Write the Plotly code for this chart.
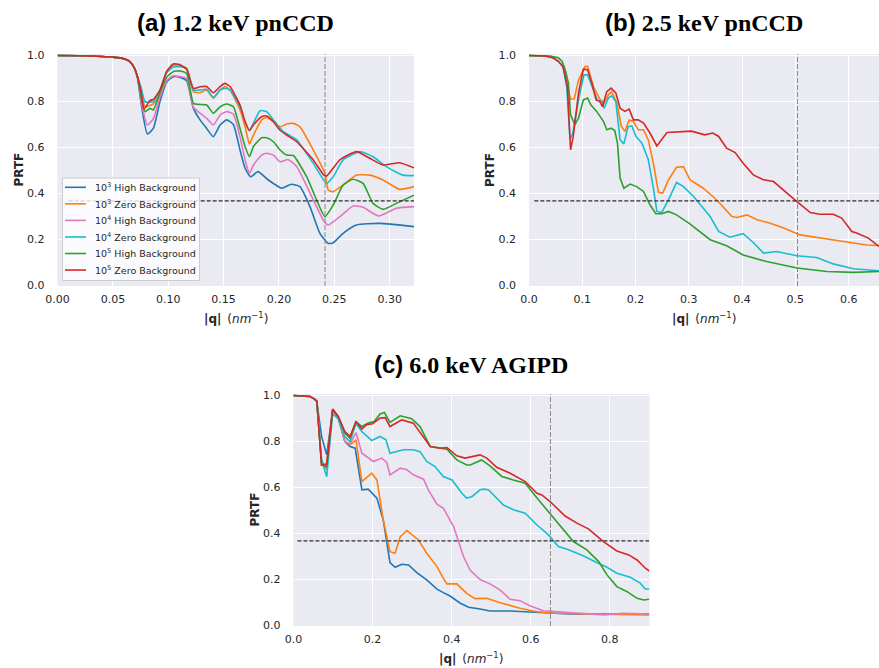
import plotly.graph_objects as go

# ---------------------------------------------------------------- data
SERIES = ["1e3_high", "1e3_zero", "1e4_high", "1e4_zero", "1e5_high", "1e5_zero"]
SERIES_LABELS = [
    "10<sup>3</sup> High Background",
    "10<sup>3</sup> Zero Background",
    "10<sup>4</sup> High Background",
    "10<sup>4</sup> Zero Background",
    "10<sup>5</sup> High Background",
    "10<sup>5</sup> Zero Background",
]
SERIES_COLORS = ["#1f77b4", "#ff7f0e", "#e377c2", "#17becf", "#2ca02c", "#d62728"]

PRTF_THRESHOLD = 0.368          # 1/e criterion
RESOLUTION_Q = {"a": 0.2416, "b": 0.504, "c": 0.65}

# (a) 1.2 keV pnCCD
a_q_1e3_high = [0, 0.02, 0.04, 0.05, 0.06, 0.065, 0.069, 0.072, 0.0755, 0.0811, 0.0865, 0.0925, 0.0985,
                0.1045, 0.1106, 0.1166, 0.1227, 0.1287, 0.1347, 0.1407, 0.1468, 0.1528, 0.1588, 0.1648,
                0.1694, 0.1744, 0.181, 0.19, 0.2025, 0.211, 0.219, 0.228, 0.237, 0.2445, 0.249, 0.258,
                0.27, 0.291, 0.322]
a_prtf_1e3_high = [1.0, 0.999, 0.996, 0.993, 0.986, 0.975, 0.95, 0.91, 0.79, 0.659, 0.683, 0.80, 0.885,
                   0.908, 0.905, 0.89, 0.77, 0.72, 0.683, 0.647, 0.698, 0.72, 0.70, 0.589,
                   0.51, 0.473, 0.495, 0.46, 0.423, 0.44, 0.43, 0.343, 0.227, 0.183, 0.186, 0.227,
                   0.263, 0.27, 0.256]

a_q_1e3_zero = [0, 0.02, 0.04, 0.05, 0.06, 0.065, 0.069, 0.072, 0.0755, 0.079, 0.0865, 0.0925, 0.0985,
                0.1045, 0.1106, 0.1166, 0.1227, 0.1287, 0.1347, 0.1407, 0.1468, 0.1511, 0.1558, 0.1648,
                0.1694, 0.1733, 0.1769, 0.1844, 0.1889, 0.195, 0.201, 0.207, 0.2131, 0.219, 0.231,
                0.2415, 0.2445, 0.249, 0.258, 0.27, 0.282, 0.294, 0.309, 0.322]
a_prtf_1e3_zero = [1.0, 0.999, 0.996, 0.993, 0.986, 0.975, 0.95, 0.91, 0.85, 0.777, 0.79, 0.83, 0.93,
                   0.958, 0.955, 0.944, 0.843, 0.838, 0.85, 0.814, 0.85, 0.865, 0.85, 0.763,
                   0.69, 0.615, 0.654, 0.72, 0.731, 0.712, 0.69, 0.702, 0.705, 0.69, 0.589,
                   0.488, 0.415, 0.408, 0.437, 0.48, 0.48, 0.459, 0.418, 0.43]

a_q_1e4_high = [0, 0.02, 0.04, 0.05, 0.06, 0.065, 0.069, 0.072, 0.0755, 0.0811, 0.0865, 0.0925, 0.0985,
                0.1045, 0.1106, 0.1166, 0.1227, 0.1287, 0.1347, 0.1407, 0.1468, 0.1528, 0.1588, 0.1648,
                0.1694, 0.1733, 0.1769, 0.1844, 0.1889, 0.195, 0.201, 0.208, 0.216, 0.231, 0.240,
                0.2445, 0.255, 0.267, 0.276, 0.29, 0.306, 0.322]
a_prtf_1e4_high = [1.0, 0.999, 0.996, 0.993, 0.986, 0.975, 0.95, 0.91, 0.80, 0.698, 0.725, 0.82, 0.89,
                   0.912, 0.908, 0.90, 0.775, 0.749, 0.727, 0.698, 0.741, 0.756, 0.745, 0.647,
                   0.546, 0.488, 0.524, 0.567, 0.575, 0.567, 0.538, 0.548, 0.517, 0.372, 0.285,
                   0.263, 0.299, 0.346, 0.34, 0.302, 0.336, 0.343]

a_q_1e4_zero = [0, 0.02, 0.04, 0.05, 0.06, 0.065, 0.069, 0.072, 0.0755, 0.079, 0.0865, 0.0925, 0.0985,
                0.1045, 0.1106, 0.1166, 0.1227, 0.1287, 0.1347, 0.1407, 0.1468, 0.1511, 0.1558, 0.1648,
                0.1694, 0.1733, 0.1769, 0.1829, 0.1889, 0.195, 0.204, 0.216, 0.231, 0.243, 0.249,
                0.258, 0.273, 0.285, 0.297, 0.312, 0.322]
a_prtf_1e4_zero = [1.0, 0.999, 0.996, 0.993, 0.986, 0.975, 0.95, 0.91, 0.86, 0.799, 0.80, 0.85, 0.925,
                   0.95, 0.951, 0.944, 0.85, 0.85, 0.853, 0.818, 0.85, 0.857, 0.85, 0.777,
                   0.712, 0.676, 0.705, 0.76, 0.756, 0.72, 0.669, 0.633, 0.531, 0.444, 0.473,
                   0.546, 0.582, 0.56, 0.517, 0.48, 0.478]

a_q_1e5_high = [0, 0.02, 0.04, 0.05, 0.06, 0.065, 0.069, 0.072, 0.0755, 0.079, 0.0835, 0.0865, 0.0925,
                0.0985, 0.1045, 0.1106, 0.1166, 0.1227, 0.1287, 0.1347, 0.1407, 0.1468, 0.1528, 0.1588,
                0.1648, 0.1694, 0.1733, 0.1769, 0.1844, 0.1889, 0.195, 0.201, 0.207, 0.213, 0.225,
                0.234, 0.2415, 0.249, 0.258, 0.267, 0.276, 0.285, 0.294, 0.306, 0.322]
a_prtf_1e5_high = [1.0, 0.999, 0.996, 0.993, 0.986, 0.975, 0.95, 0.91, 0.82, 0.756, 0.77, 0.763, 0.84,
                   0.905, 0.93, 0.933, 0.922, 0.792, 0.787, 0.785, 0.749, 0.777, 0.789, 0.777,
                   0.683, 0.604, 0.56, 0.604, 0.642, 0.642, 0.625, 0.589, 0.567, 0.565, 0.473,
                   0.372, 0.299, 0.35, 0.437, 0.462, 0.444, 0.357, 0.331, 0.357, 0.393]

a_q_1e5_zero = [0, 0.02, 0.04, 0.05, 0.06, 0.065, 0.069, 0.072, 0.0755, 0.078, 0.0835, 0.0865, 0.0925,
                0.0985, 0.1045, 0.1106, 0.1166, 0.1227, 0.1287, 0.1347, 0.1407, 0.1468, 0.1511, 0.1558,
                0.1648, 0.1694, 0.1733, 0.1769, 0.1844, 0.1889, 0.195, 0.201, 0.207, 0.216, 0.231,
                0.2405, 0.243, 0.255, 0.270, 0.282, 0.294, 0.309, 0.322]
a_prtf_1e5_zero = [1.0, 0.999, 0.996, 0.993, 0.986, 0.975, 0.95, 0.91, 0.84, 0.766, 0.805, 0.809, 0.85,
                   0.93, 0.963, 0.96, 0.94, 0.857, 0.864, 0.865, 0.838, 0.865, 0.879, 0.865,
                   0.785, 0.712, 0.673, 0.698, 0.734, 0.737, 0.712, 0.675, 0.654, 0.625, 0.546,
                   0.48, 0.476, 0.546, 0.582, 0.553, 0.524, 0.534, 0.512]

# (b) 2.5 keV pnCCD
b_q_1e3_zero = [0, 0.03, 0.045, 0.055, 0.064, 0.072, 0.078, 0.085, 0.093, 0.105, 0.11, 0.121, 0.133,
                0.141, 0.149, 0.155, 0.165, 0.173, 0.18, 0.188, 0.196, 0.205, 0.215, 0.224, 0.234,
                0.243, 0.251, 0.262, 0.277, 0.29, 0.302, 0.327, 0.352, 0.381, 0.39, 0.409, 0.428,
                0.453, 0.478, 0.509, 0.54, 0.571, 0.603, 0.634, 0.657]
b_prtf_1e3_zero = [1.0, 0.998, 0.99, 0.975, 0.95, 0.87, 0.81, 0.812, 0.894, 0.952, 0.953, 0.865, 0.81,
                   0.793, 0.829, 0.843, 0.793, 0.694, 0.67, 0.72, 0.713, 0.677, 0.677, 0.633, 0.525,
                   0.405, 0.402, 0.46, 0.514, 0.517, 0.46, 0.423, 0.373, 0.30, 0.296, 0.307, 0.286,
                   0.271, 0.25, 0.22, 0.21, 0.199, 0.187, 0.176, 0.174]

b_q_1e4_zero = [0, 0.03, 0.045, 0.055, 0.064, 0.071, 0.077, 0.082, 0.093, 0.103, 0.11, 0.121, 0.128,
                0.137, 0.141, 0.149, 0.155, 0.163, 0.171, 0.178, 0.186, 0.193, 0.201, 0.212, 0.224,
                0.234, 0.24, 0.249, 0.262, 0.277, 0.29, 0.309, 0.34, 0.356, 0.377, 0.402, 0.421,
                0.44, 0.465, 0.503, 0.54, 0.571, 0.609, 0.657]
b_prtf_1e4_zero = [1.0, 0.998, 0.99, 0.975, 0.95, 0.86, 0.636, 0.66, 0.807, 0.916, 0.916, 0.851, 0.807,
                   0.80, 0.771, 0.815, 0.825, 0.80, 0.633, 0.616, 0.691, 0.694, 0.648, 0.619, 0.547,
                   0.416, 0.322, 0.317, 0.373, 0.448, 0.43, 0.387, 0.30, 0.235, 0.21, 0.225, 0.187,
                   0.141, 0.148, 0.129, 0.122, 0.094, 0.073, 0.064]

b_q_1e5_high = [0, 0.04, 0.055, 0.062, 0.068, 0.074, 0.078, 0.086, 0.093, 0.102, 0.11, 0.116, 0.127,
                0.14, 0.146, 0.154, 0.161, 0.166, 0.171, 0.178, 0.19, 0.202, 0.215, 0.227, 0.238,
                0.249, 0.262, 0.277, 0.302, 0.34, 0.371, 0.402, 0.446, 0.503, 0.559, 0.609, 0.657]
b_prtf_1e5_high = [1.0, 0.998, 0.99, 0.975, 0.938, 0.88, 0.742, 0.699, 0.728, 0.807, 0.815, 0.786, 0.757,
                   0.713, 0.677, 0.684, 0.674, 0.62, 0.467, 0.423, 0.441, 0.43, 0.409, 0.351, 0.312,
                   0.312, 0.322, 0.307, 0.268, 0.199, 0.173, 0.133, 0.104, 0.076, 0.061, 0.057, 0.061]

b_q_1e5_zero = [0, 0.03, 0.045, 0.055, 0.064, 0.072, 0.078, 0.083, 0.093, 0.102, 0.11, 0.118, 0.126,
                0.133, 0.138, 0.146, 0.154, 0.163, 0.171, 0.18, 0.188, 0.196, 0.205, 0.215, 0.227,
                0.24, 0.259, 0.284, 0.305, 0.33, 0.345, 0.356, 0.371, 0.387, 0.402, 0.421, 0.44,
                0.459, 0.478, 0.503, 0.528, 0.546, 0.571, 0.587, 0.606, 0.615, 0.637, 0.657]
b_prtf_1e5_zero = [1.0, 0.998, 0.99, 0.975, 0.952, 0.865, 0.59, 0.648, 0.837, 0.941, 0.938, 0.88, 0.807,
                   0.80, 0.778, 0.843, 0.858, 0.837, 0.771, 0.757, 0.767, 0.72, 0.72, 0.706, 0.663,
                   0.607, 0.665, 0.668, 0.671, 0.655, 0.663, 0.648, 0.597, 0.578, 0.532, 0.481, 0.46,
                   0.452, 0.416, 0.365, 0.317, 0.31, 0.31, 0.293, 0.235, 0.228, 0.206, 0.17]

# (c) 6.0 keV AGIPD
c_q_1e3_high = [0, 0.03, 0.042, 0.054, 0.059, 0.071, 0.084, 0.099, 0.113, 0.13, 0.143, 0.156, 0.173,
                0.189, 0.211, 0.227, 0.244, 0.257, 0.274, 0.291, 0.312, 0.337, 0.363, 0.379, 0.396,
                0.422, 0.443, 0.472, 0.497, 0.548, 0.599, 0.649, 0.70, 0.80, 0.90]
c_prtf_1e3_high = [1.0, 0.998, 0.996, 0.983, 0.974, 0.822, 0.742, 0.934, 0.905, 0.80, 0.778, 0.771, 0.59,
                   0.593, 0.554, 0.459, 0.273, 0.253, 0.266, 0.263, 0.23, 0.198, 0.158, 0.143, 0.128,
                   0.097, 0.079, 0.072, 0.063, 0.063, 0.058, 0.053, 0.05, 0.05, 0.05]

c_q_1e3_zero = [0, 0.03, 0.042, 0.054, 0.059, 0.071, 0.084, 0.099, 0.113, 0.13, 0.143, 0.158, 0.173,
                0.198, 0.211, 0.227, 0.244, 0.257, 0.27, 0.287, 0.316, 0.337, 0.363, 0.379, 0.388,
                0.413, 0.438, 0.459, 0.489, 0.523, 0.573, 0.616, 0.658, 0.75, 0.90]
c_prtf_1e3_zero = [1.0, 0.998, 0.996, 0.983, 0.975, 0.70, 0.705, 0.94, 0.905, 0.80, 0.786, 0.807, 0.626,
                   0.662, 0.633, 0.459, 0.321, 0.314, 0.386, 0.413, 0.372, 0.314, 0.256, 0.205, 0.181,
                   0.181, 0.14, 0.117, 0.118, 0.099, 0.075, 0.06, 0.053, 0.05, 0.046]

c_q_1e4_high = [0, 0.03, 0.042, 0.054, 0.059, 0.071, 0.084, 0.099, 0.113, 0.13, 0.143, 0.158, 0.173,
                0.202, 0.223, 0.236, 0.244, 0.27, 0.287, 0.303, 0.329, 0.341, 0.363, 0.379, 0.405,
                0.43, 0.447, 0.472, 0.497, 0.523, 0.548, 0.573, 0.599, 0.632, 0.666, 0.70, 0.784,
                0.835, 0.90]
c_prtf_1e4_high = [1.0, 0.998, 0.996, 0.983, 0.975, 0.72, 0.677, 0.934, 0.90, 0.80, 0.79, 0.839, 0.749,
                   0.713, 0.728, 0.709, 0.655, 0.684, 0.677, 0.655, 0.636, 0.59, 0.528, 0.51, 0.43,
                   0.30, 0.24, 0.20, 0.181, 0.154, 0.114, 0.108, 0.085, 0.064, 0.06, 0.053, 0.046,
                   0.053, 0.05]

c_q_1e4_zero = [0, 0.03, 0.042, 0.054, 0.059, 0.067, 0.071, 0.084, 0.099, 0.113, 0.129, 0.143, 0.158,
                0.173, 0.198, 0.219, 0.234, 0.244, 0.278, 0.303, 0.32, 0.337, 0.358, 0.379, 0.401,
                0.426, 0.438, 0.451, 0.472, 0.481, 0.493, 0.531, 0.556, 0.586, 0.616, 0.645, 0.67,
                0.696, 0.734, 0.768, 0.793, 0.818, 0.852, 0.877, 0.89, 0.90]
c_prtf_1e4_zero = [1.0, 0.998, 0.996, 0.983, 0.975, 0.80, 0.72, 0.647, 0.92, 0.90, 0.822, 0.80, 0.878,
                   0.843, 0.804, 0.822, 0.807, 0.749, 0.764, 0.764, 0.756, 0.713, 0.691, 0.648, 0.633,
                   0.575, 0.554, 0.56, 0.59, 0.593, 0.59, 0.524, 0.503, 0.488, 0.437, 0.394, 0.343,
                   0.329, 0.302, 0.273, 0.253, 0.227, 0.21, 0.184, 0.159, 0.159]

c_q_1e5_high = [0, 0.03, 0.042, 0.054, 0.059, 0.071, 0.084, 0.099, 0.113, 0.13, 0.143, 0.158, 0.173,
                0.189, 0.204, 0.219, 0.23, 0.244, 0.27, 0.299, 0.32, 0.346, 0.371, 0.388, 0.413,
                0.438, 0.447, 0.476, 0.497, 0.527, 0.556, 0.586, 0.616, 0.649, 0.683, 0.708, 0.742,
                0.772, 0.793, 0.818, 0.844, 0.869, 0.886, 0.90]
c_prtf_1e5_high = [1.0, 0.998, 0.996, 0.983, 0.976, 0.698, 0.69, 0.94, 0.91, 0.836, 0.814, 0.887, 0.865,
                   0.88, 0.887, 0.92, 0.926, 0.883, 0.912, 0.899, 0.865, 0.778, 0.771, 0.767, 0.72,
                   0.698, 0.698, 0.72, 0.694, 0.648, 0.633, 0.619, 0.554, 0.488, 0.416, 0.365, 0.329,
                   0.278, 0.22, 0.169, 0.147, 0.118, 0.111, 0.114]

c_q_1e5_zero = [0, 0.03, 0.042, 0.054, 0.059, 0.071, 0.084, 0.099, 0.113, 0.13, 0.143, 0.158, 0.173,
                0.185, 0.20, 0.219, 0.232, 0.244, 0.274, 0.303, 0.346, 0.371, 0.388, 0.413, 0.434,
                0.472, 0.489, 0.514, 0.548, 0.586, 0.616, 0.628, 0.649, 0.687, 0.717, 0.746, 0.784,
                0.818, 0.848, 0.869, 0.89, 0.90]
c_prtf_1e5_zero = [1.0, 0.998, 0.996, 0.983, 0.976, 0.698, 0.70, 0.941, 0.909, 0.843, 0.822, 0.887, 0.854,
                   0.873, 0.877, 0.902, 0.904, 0.865, 0.894, 0.88, 0.778, 0.771, 0.774, 0.738, 0.728,
                   0.742, 0.728, 0.688, 0.662, 0.626, 0.575, 0.568, 0.539, 0.476, 0.445, 0.42, 0.365,
                   0.324, 0.307, 0.285, 0.249, 0.237]

PANEL_DATA = {
    "a": [(a_q_1e3_high, a_prtf_1e3_high), (a_q_1e3_zero, a_prtf_1e3_zero),
          (a_q_1e4_high, a_prtf_1e4_high), (a_q_1e4_zero, a_prtf_1e4_zero),
          (a_q_1e5_high, a_prtf_1e5_high), (a_q_1e5_zero, a_prtf_1e5_zero)],
    "b": [None, (b_q_1e3_zero, b_prtf_1e3_zero),
          None, (b_q_1e4_zero, b_prtf_1e4_zero),
          (b_q_1e5_high, b_prtf_1e5_high), (b_q_1e5_zero, b_prtf_1e5_zero)],
    "c": [(c_q_1e3_high, c_prtf_1e3_high), (c_q_1e3_zero, c_prtf_1e3_zero),
          (c_q_1e4_high, c_prtf_1e4_high), (c_q_1e4_zero, c_prtf_1e4_zero),
          (c_q_1e5_high, c_prtf_1e5_high), (c_q_1e5_zero, c_prtf_1e5_zero)],
}

PANEL_TITLES = {"a": ("(a)", "1.2 keV pnCCD"), "b": ("(b)", "2.5 keV pnCCD"), "c": ("(c)", "6.0 keV AGIPD")}
X_TICKS = {
    "a": [0.0, 0.05, 0.10, 0.15, 0.20, 0.25, 0.30],
    "b": [0.0, 0.1, 0.2, 0.3, 0.4, 0.5, 0.6],
    "c": [0.0, 0.2, 0.4, 0.6, 0.8],
}
X_TICK_FORMAT = {"a": ".2f", "b": ".1f", "c": ".1f"}
X_MAX = {"a": 0.322, "b": 0.657, "c": 0.90}
Y_TICKS = [0.0, 0.2, 0.4, 0.6, 0.8, 1.0]

# ---------------------------------------------------------------- layout
W, H = 879, 668
BG = "#EAEAF2"
TXT = "#262626"
TICK_FONT = dict(family="DejaVu Sans", size=11, color=TXT)


def px(x):
    return x / W


def py(y):
    return 1 - y / H


# plot rectangles in pixels: (left, right, top, bottom), plus title centre line
BOXES = {"a": (57.6, 414.0, 54.0, 286.0), "b": (529.0, 879.0, 54.0, 286.0), "c": (293.5, 649.3, 394.0, 626.0)}
TITLE_Y = {"a": 23, "b": 23, "c": 365}
AXES = {"a": ("x", "y"), "b": ("x2", "y2"), "c": ("x3", "y3")}
# the 1.2 keV curves are finely sampled and drawn smooth
LINE_SHAPE = {"a": "spline", "b": "linear", "c": "linear"}
Y_RANGE = [-0.0022, 1.0066]

fig = go.Figure()

for key, series in PANEL_DATA.items():
    xa, ya = AXES[key]
    for i, item in enumerate(series):
        if item is None:
            continue
        q, prtf = item
        line = dict(color=SERIES_COLORS[i], width=1.6, shape=LINE_SHAPE[key])
        if LINE_SHAPE[key] == "spline":
            line["smoothing"] = 0.5
        fig.add_trace(go.Scatter(
            x=q, y=prtf, mode="lines", xaxis=xa, yaxis=ya, line=line,
            name=SERIES_LABELS[i], showlegend=False, hoverinfo="skip",
        ))

annotations = []
shapes = []

for key, (l, r, t, b) in BOXES.items():
    xa, ya = AXES[key]
    xname = "xaxis" if xa == "x" else "xaxis" + xa[1:]
    yname = "yaxis" if ya == "y" else "yaxis" + ya[1:]
    fig.layout[xname] = dict(
        domain=[px(l), px(r)], range=[0, X_MAX[key]], anchor=ya, automargin=False,
        tickvals=X_TICKS[key], tickformat=X_TICK_FORMAT[key],
        showgrid=True, gridcolor="white", gridwidth=1.3, zeroline=False,
        showline=False, ticks="", ticklabelstandoff=5, tickfont=TICK_FONT,
    )
    fig.layout[yname] = dict(
        domain=[py(b), py(t)], range=Y_RANGE, anchor=xa, automargin=False,
        tickvals=Y_TICKS, tickformat=".1f",
        showgrid=True, gridcolor="white", gridwidth=1.3, zeroline=False,
        showline=False, ticks="", ticklabelstandoff=12, tickfont=TICK_FONT,
    )
    # plot background
    shapes.append(dict(type="rect", xref="paper", yref="paper", x0=px(l), x1=px(r), y0=py(b), y1=py(t),
                       fillcolor=BG, line=dict(width=0), layer="below"))
    # resolution marker and 1/e threshold
    shapes.append(dict(type="line", xref=xa, yref=ya + " domain", x0=RESOLUTION_Q[key], x1=RESOLUTION_Q[key],
                       y0=0, y1=1, line=dict(color="#8a8a8a", width=1, dash="5px,2px")))
    shapes.append(dict(type="line", xref=xa, yref=ya, x0=0.01, x1=X_MAX[key],
                       y0=PRTF_THRESHOLD, y1=PRTF_THRESHOLD,
                       line=dict(color="#2e2e2e", width=1.1, dash="4px,2px")))
    # panel title
    tag, label = PANEL_TITLES[key]
    annotations.append(dict(
        xref="paper", yref="paper", x=px((l + r) / 2), y=py(TITLE_Y[key]), xanchor="center", yanchor="middle",
        text=f'<b><span style="font-family:Liberation Sans">{tag}</span> {label}</b>',
        showarrow=False, font=dict(family="Liberation Serif", size=24, color="black"),
    ))
    # axis titles
    annotations.append(dict(
        xref="paper", yref="paper", x=px(l - 39), y=py((t + b) / 2), xanchor="center", yanchor="middle",
        text="<b>PRTF</b>", textangle=-90, showarrow=False,
        font=dict(family="DejaVu Sans", size=12, color=TXT),
    ))
    annotations.append(dict(
        xref="paper", yref="paper", x=px((l + r) / 2), y=py(b + 32), xanchor="center",
        yanchor="middle", text="<b>|q|</b>\u2002(<i>nm</i><sup>\u22121</sup>)", showarrow=False,
        font=dict(family="DejaVu Sans", size=12, color=TXT),
    ))

# legend of panel (a), laid out like a matplotlib legend box
LEG_LEFT, LEG_TOP, LEG_RIGHT, LEG_BOTTOM = 62.5, 178.0, 199.5, 280.5
ROW0, ROW_STEP = 187.3, 16.55
shapes.append(dict(type="rect", xref="paper", yref="paper", x0=px(LEG_LEFT), x1=px(LEG_RIGHT),
                   y0=py(LEG_BOTTOM), y1=py(LEG_TOP), fillcolor="rgba(255,255,255,0.8)",
                   line=dict(color="#cccccc", width=1)))
for i, (label, color) in enumerate(zip(SERIES_LABELS, SERIES_COLORS)):
    yy = ROW0 + i * ROW_STEP
    shapes.append(dict(type="line", xref="paper", yref="paper", x0=px(65), x1=px(86), y0=py(yy), y1=py(yy),
                       line=dict(color=color, width=1.6)))
    annotations.append(dict(xref="paper", yref="paper", x=px(92.5), y=py(yy), xanchor="left", yanchor="middle",
                            text=label, showarrow=False,
                            font=dict(family="DejaVu Sans", size=9.5, color=TXT)))

fig.update_layout(
    width=W, height=H, margin=dict(l=0, r=0, t=0, b=0, autoexpand=False),
    paper_bgcolor="white", plot_bgcolor=BG, showlegend=False,
    shapes=shapes, annotations=annotations,
)

fig.write_html("out.html", config={"displayModeBar": False})
